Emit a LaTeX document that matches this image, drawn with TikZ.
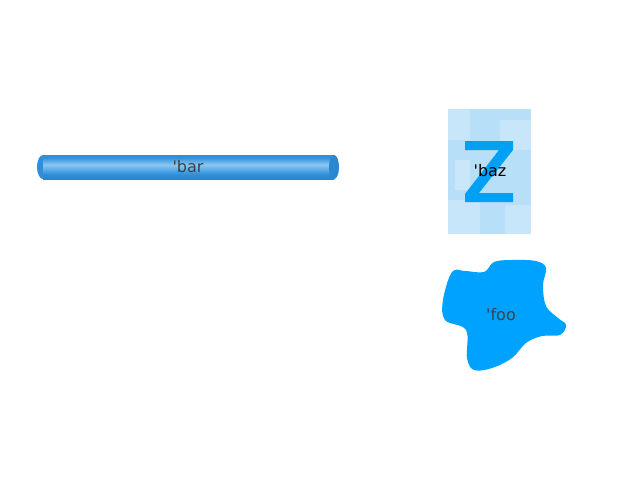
\documentclass[tikz,border=0pt]{standalone}
\usepackage{fontspec}
\newfontfamily\lblfont{DejaVu Sans}
\usetikzlibrary{shapes.geometric}
\definecolor{tubeDark}{HTML}{1A6DB0}
\definecolor{tubeMid}{HTML}{2E8FDA}
\definecolor{tubeLight}{HTML}{8CC8F2}
\definecolor{blobBlue}{HTML}{00A2FF}
\definecolor{zBlue}{HTML}{00A0F5}
\definecolor{texBg}{HTML}{B8DFF8}
\definecolor{texLight}{HTML}{D6EEFC}
\definecolor{txtGray}{HTML}{404040}
\pgfdeclareverticalshading{tubeshade}{100bp}{
  color(0bp)=(tubeDark); color(35bp)=(tubeMid); color(55bp)=(tubeLight);
  color(70bp)=(tubeMid); color(100bp)=(tubeMid)}
\tikzset{
  lbl/.style={font=\lblfont\fontsize{16}{18}\selectfont, inner sep=0pt},
}
\begin{document}
\begin{tikzpicture}[x=1pt,y=-1pt]
\useasboundingbox (0,0) rectangle (640,480);
% tube
\shade[shading=tubeshade] (43,155) rectangle (334,179);
\fill[tubeMid] (43,167) ellipse (6 and 12);
\shade[shading=tubeshade] (43,155) rectangle (55,179);
\fill[tubeMid!80!tubeDark] (334,167) ellipse (5 and 12);
\node[lbl, text=txtGray] (bar) at (188,167) {'bar};
% baz
\fill[texBg] (448,109) rectangle (531,234);
\fill[texLight, opacity=0.5] (448,109) rectangle (470,140);
\fill[texLight, opacity=0.5] (500,120) rectangle (531,150);
\fill[texLight, opacity=0.5] (448,200) rectangle (480,234);
\fill[texLight, opacity=0.5] (505,205) rectangle (531,234);
\fill[white, opacity=0.25] (455,160) rectangle (470,190);
\fill[zBlue] (465,141) -- (513,141) -- (513,150) -- (479,193) -- (513,193) -- (513,202) -- (465,202) -- (465,194) -- (499,150) -- (465,150) -- cycle;
\node[lbl, text=black] (baz) at (490,171) {'baz};
% foo
\fill[blobBlue] plot[smooth cycle, tension=0.6] coordinates {
  (452,272) (443,300) (445,320) (466,330) (467,358) (474,370) (492,368)
  (512,358) (526,343) (542,336) (560,335) (566,325) (558,318) (546,306)
  (543,285) (546,268) (536,261) (512,260) (494,262) (484,272) (465,271)};
\node[lbl, text=txtGray] (foo) at (501,315) {'foo};
\end{tikzpicture}
\end{document}
